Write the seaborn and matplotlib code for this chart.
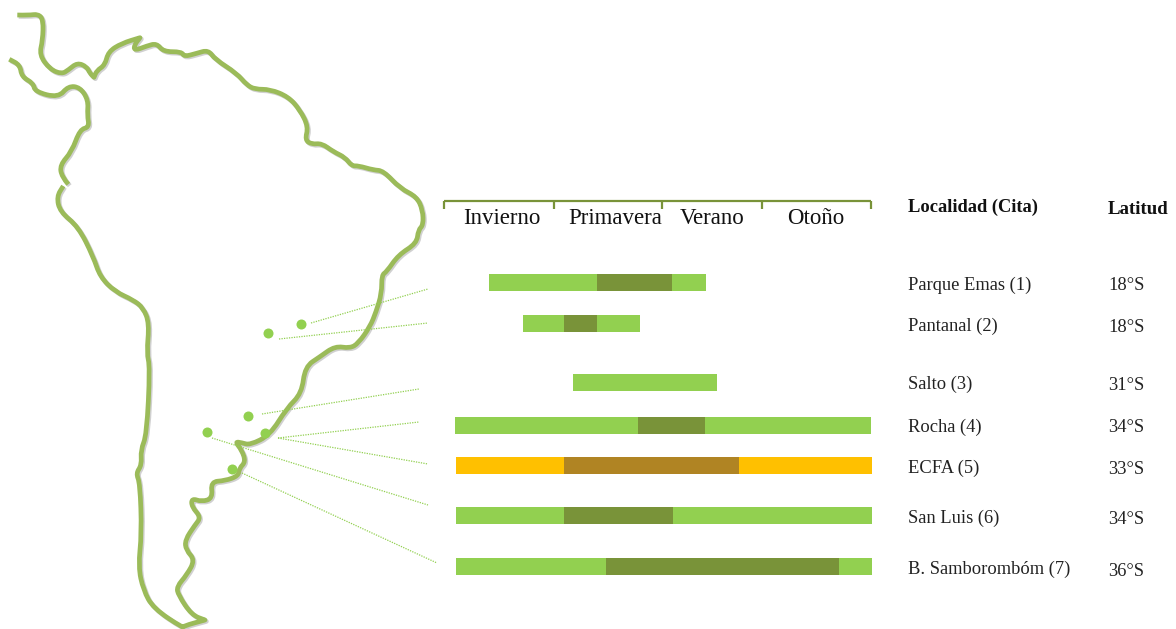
#!/usr/bin/env python3
"""Breeding seasons by locality, next to a South America outline."""

import matplotlib.pyplot as plt
import matplotlib.patheffects as pe
from matplotlib.patches import PathPatch
from matplotlib.path import Path
import seaborn as sns

sns.set_theme(style="white")
plt.rcParams['font.family'] = ['Liberation Serif', 'DejaVu Serif']

# Coastline (repeated points keep the sharp capes)
coast_east_x = [17.3, 28.3, 38.3, 43.3, 42.7, 39.3, 50, 61.7, 68.3, 77.3, 86.7, 90, 94, 94, 96.7, 105, 108.3, 121.7, 140, 140,
                134.3, 134.3, 146.7, 156.7, 163.3, 181.7, 184, 196.7, 208.3, 215, 236.7, 246.7, 255, 270, 288.3, 300,
                308.3, 305, 311.7, 321.7, 333.3, 345, 351.7, 358.3, 373.3, 383.3, 400, 416.7, 422.7, 423.3, 418.3,
                416.7, 398.3, 386.7, 381.7, 381.7, 376, 370, 358.3, 350, 335, 320, 305, 301.7, 286.7, 270, 250, 241.7,
                235, 241.7, 245.7, 239.3, 238.3, 225, 210.7, 212.7, 201.7, 191.7, 191.7, 201, 195, 185, 186, 195,
                186.7, 176.7, 178.3, 191.7, 205, 205, 183.3, 183, 153.3, 143.3, 138.3, 141.7, 140, 136, 141.7, 140.7, 146.7,
                150, 146.7, 149.3, 143.3, 133.3, 115, 100, 93.3, 78.3, 60, 56.7, 63.3]
coast_east_y = [15, 15.3, 14, 20, 40, 55, 69.3, 74, 70, 62.7, 66.7, 73.3, 77.3, 77.3, 70.7, 65, 51.7, 43.3, 37.7, 37.7,
                45, 50.7, 46, 43.3, 51.7, 51.7, 56.7, 53.3, 50, 59.3, 73.3, 85, 89.3, 89.3, 96.7, 110,
                126.7, 140, 144.3, 143.3, 151.7, 157.3, 166, 165.7, 170, 170.7, 188.3, 196.7, 210, 225, 230,
                243.3, 255, 271.7, 275, 293.3, 312, 326.7, 343.3, 348.3, 346, 356.7, 366.7, 393.3, 408.3, 435, 445, 442.7,
                441.7, 450, 461.7, 468.3, 476, 480.7, 481.7, 498.3, 501.7, 498.3, 506.7, 517.3, 525, 540, 550, 560,
                575, 586.7, 595, 615, 620, 620, 626, 628, 608.3, 590, 566.7, 533.3, 483.3, 473.3, 465, 450, 435,
                366.7, 353.3, 323.3, 308, 300, 291.7, 276.7, 256.7, 226.7, 211.7, 196.7, 186]
coast_west_x = [68.3, 61.7, 60, 71.7, 80, 89.3, 87.3, 88.3, 80, 68.3, 58.3, 35, 33.3, 21.7, 20, 9.3]
coast_west_y = [184.3, 176.7, 165, 151.7, 129.3, 127.3, 115, 100, 87.3, 86, 97.7, 91.7, 83.3, 76.7, 65, 59.3]

# Study sites on the map
site_x = [301, 268, 248, 265, 207, 232]
site_y = [324, 333, 416, 433, 432, 469]

# Leader lines, site to row
leader_x0 = [311, 279, 262, 278, 278, 212, 242]
leader_y0 = [323, 339, 414, 438, 438, 438, 473]
leader_x1 = [428, 428, 419, 419, 428, 428, 437]
leader_y1 = [289, 323, 389, 422, 464, 505, 563]

# Season axis
season_edges = [444, 554, 662, 762, 871]
season_labels = ['Invierno', 'Primavera', 'Verano', 'Otoño']
season_label_x = [502, 615, 712, 816]

# Rows: season start, peak start, peak end, season end (None = no peak)
localities = ['Parque Emas (1)', 'Pantanal (2)', 'Salto (3)', 'Rocha (4)', 'ECFA (5)', 'San Luis (6)',
              'B. Samborombóm (7)']
latitudes = ['18°S', '18°S', '31°S', '34°S', '33°S', '34°S', '36°S']
season_start = [489, 523, 573, 455, 456, 456, 456]
peak_start = [597, 564, None, 638, 564, 564, 606]
peak_end = [672, 597, None, 705, 739, 673, 839]
season_end = [706, 640, 717, 871, 872, 872, 872]

# Layout
row_y = [282.5, 323.5, 382.5, 425.5, 465.5, 515.5, 566.5]
name_y = [285, 326, 384, 427, 468, 518, 569]
lat_y = [286, 328, 386, 428, 470, 520, 571]
LIGHT = '#92D050'
DARK = '#799339'
LIGHT_ALT = '#FFC000'
DARK_ALT = '#B08423'
COAST = '#9BBB59'


def rounded_path(xs, ys):
    # traced points act as bezier controls, so the outline reads as a drawn curve
    verts = [(xs[0], ys[0])]
    codes = [Path.MOVETO]
    for i in range(1, len(xs) - 1):
        verts += [(xs[i], ys[i]), ((xs[i] + xs[i + 1]) / 2, (ys[i] + ys[i + 1]) / 2)]
        codes += [Path.CURVE3, Path.CURVE3]
    verts.append((xs[-1], ys[-1]))
    codes.append(Path.LINETO)
    return Path(verts, codes)


fig = plt.figure(figsize=(11.76, 6.29), dpi=100, facecolor='white')
ax = fig.add_axes([0, 0, 1, 1])

# Map
shadow = [pe.SimpleLineShadow(offset=(1, -1), shadow_color='#666666', alpha=0.3), pe.Normal()]
for xs, ys in [(coast_east_x, coast_east_y), (coast_west_x, coast_west_y)]:
    ax.add_patch(PathPatch(rounded_path(xs, ys), fill=False, edgecolor=COAST, lw=3.4, capstyle='butt',
                           joinstyle='round', path_effects=shadow, zorder=3))

for x0, y0, x1, y1 in zip(leader_x0, leader_y0, leader_x1, leader_y1):
    ax.plot([x0, x1], [y0, y1], color=LIGHT, lw=0.9, ls=(0, (1, 1)), zorder=4)

sns.scatterplot(x=site_x, y=site_y, color=LIGHT, s=52, linewidth=0, ax=ax, legend=False, zorder=5)

# Season bracket
ax.plot([season_edges[0], season_edges[-1]], [201, 201], color=DARK, lw=1.6, solid_capstyle='butt')
for edge in season_edges:
    ax.plot([edge, edge], [200.5, 209], color=DARK, lw=1.6, solid_capstyle='butt')
for label, x in zip(season_labels, season_label_x):
    ax.text(x, 218, label, fontsize=16.5, color='#111111', ha='center', va='center')

# Bars
for i, y in enumerate(row_y):
    light, dark = (LIGHT_ALT, DARK_ALT) if localities[i].startswith('ECFA') else (LIGHT, DARK)
    ax.barh(y, season_end[i] - season_start[i], left=season_start[i], height=17, color=light, linewidth=0)
    if peak_start[i] is not None:
        ax.barh(y, peak_end[i] - peak_start[i], left=peak_start[i], height=17, color=dark, linewidth=0, zorder=3)

# Table text
ax.text(908, 207, 'Localidad (Cita)', fontsize=13.3, fontweight='bold', color='#111111', va='center')
ax.text(1108, 209, 'Latitud', fontsize=13.6, fontweight='bold', color='#111111', va='center')
for name, lat, yn, yl in zip(localities, latitudes, name_y, lat_y):
    ax.text(908, yn, name, fontsize=13.3, color='#222222', va='center')
    ax.text(1108, yl, lat, fontsize=13.3, color='#222222', va='center')

ax.set_xlim(0, 1176)
ax.set_ylim(629, 0)
ax.axis('off')

fig.savefig('out.png', dpi=100, facecolor='white')
